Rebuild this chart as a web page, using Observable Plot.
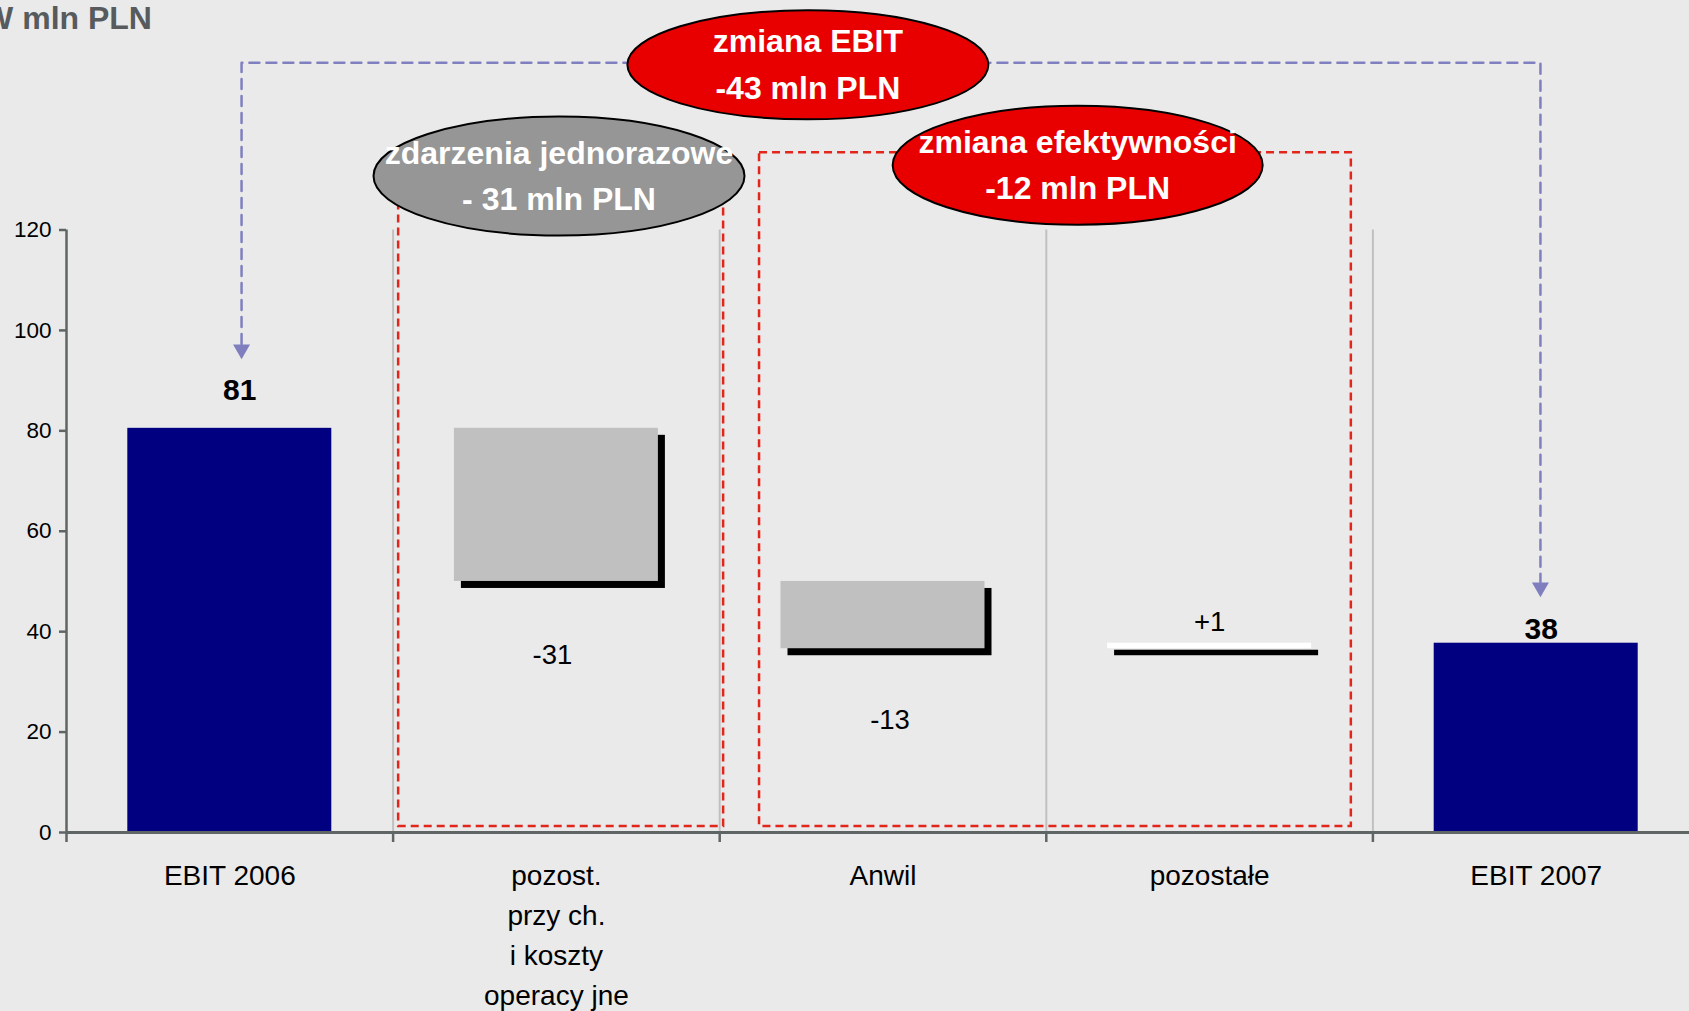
<!DOCTYPE html>
<html><head><meta charset="utf-8">
<script src="https://cdn.jsdelivr.net/npm/d3@7"></script>
<script src="https://cdn.jsdelivr.net/npm/@observablehq/plot@0.6"></script>
<style>
html,body{margin:0;padding:0;background:#eaeaea;overflow:hidden}
#chart svg{display:block}
</style></head><body><div id="chart"></div>
<script>
// ---- data ----
const categories = ["EBIT 2006", "pozost.\nprzy ch.\ni koszty\noperacy jne", "Anwil", "pozostałe", "EBIT 2007"];
const kinds = ["total", "delta", "delta", "delta", "total"];
const values = [80.5, -30.5, -13.4, 1.1, 37.7];
const valueLabels = ["81", "-31", "-13", "+1", "38"];
const yTicks = [0, 20, 40, 60, 80, 100, 120];
const axisTitle = "W mln PLN";
const bubbleTexts = ["zmiana EBIT\n-43 mln PLN", "zdarzenia jednorazowe\n- 31 mln PLN", "zmiana efektywności\n-12 mln PLN"];

// ---- annotation layout (data units: x = category index, y = mln PLN) ----
const bubbleLayout = [
  {cx: 2.270, cy: 152.9, rx: 180.5, ry: 54.5, fill: "#e80000"},
  {cx: 1.508, cy: 130.75, rx: 185.5, ry: 59.5, fill: "#969696"},
  {cx: 3.096, cy: 132.9, rx: 185, ry: 59.5, fill: "#e80000"}
];
const boxLayout = [
  {x1: 1.017, x2: 2.012, y1: 1.2, y2: 127},
  {x1: 2.122, x2: 3.934, y1: 1.2, y2: 135.4}
];
const connector = [
  {x: 0.536, y: 97.3}, {x: 0.536, y: 153.3}, {x: 4.513, y: 153.3}, {x: 4.513, y: 49.9}
];
const arrowHeads = [{x: 0.536, y: 96.2}, {x: 4.513, y: 48.8}];

// ---- build waterfall rows ----
let run = 0;
const rows = categories.map((c, i) => {
  let y1, y2;
  if (kinds[i] === "total") { y1 = 0; y2 = values[i]; run = values[i]; }
  else { y1 = run; y2 = run + values[i]; run = y2; }
  return {i, label: c, kind: kinds[i], v: values[i], y1, y2, lo: Math.min(y1, y2), hi: Math.max(y1, y2), text: valueLabels[i]};
});
const pad = 0.1877;
const deltas = rows.filter(d => d.kind === "delta");
const totals = rows.filter(d => d.kind === "total");
const bubbles = bubbleLayout.map((b, i) => ({...b, text: bubbleTexts[i]}));

function ellipseSymbol(rx, ry) {
  const k = 0.5522847498;
  return {draw(ctx) {
    ctx.moveTo(rx, 0);
    ctx.bezierCurveTo(rx, ry * k, rx * k, ry, 0, ry);
    ctx.bezierCurveTo(-rx * k, ry, -rx, ry * k, -rx, 0);
    ctx.bezierCurveTo(-rx, -ry * k, -rx * k, -ry, 0, -ry);
    ctx.bezierCurveTo(rx * k, -ry, rx, -ry * k, rx, 0);
    ctx.closePath();
  }};
}

const axisColor = "#5f6464";
const font = "'Liberation Sans', Arial, sans-serif";

const chart = Plot.plot({
  width: 1689, height: 1011,
  marginLeft: 66, marginRight: 0, marginTop: 229.5, marginBottom: 179,
  style: {background: "transparent", fontFamily: font, color: "black", overflow: "hidden"},
  x: {domain: [0, 5], range: [66, 1699], axis: null},
  y: {domain: [0, 120], axis: null},
  marks: [
    // separators
    Plot.ruleX([1, 2, 3, 4], {y1: 0, y2: 120, stroke: "#c0c0c0", strokeWidth: 2}),
    // shadows
    Plot.rect(deltas, {x1: d => d.i + pad, x2: d => d.i + 1 - pad, y1: "lo", y2: "hi", fill: "black", dx: 7, dy: 7}),
    // bars
    Plot.rect(rows, {x1: d => d.i + pad, x2: d => d.i + 1 - pad, y1: "lo", y2: "hi",
      fill: d => d.kind === "total" ? "#000080" : d.v < 0 ? "#c0c0c0" : "#ffffff"}),
    // red dashed boxes
    Plot.rect(boxLayout, {x1: "x1", x2: "x2", y1: "y1", y2: "y2", fill: "none", stroke: "#e3261c", strokeWidth: 2.5, strokeDasharray: "8,5"}),
    // axes
    Plot.ruleX([0], {y1: 0, y2: 120, stroke: axisColor, strokeWidth: 2.5}),
    Plot.axisY({ticks: yTicks, tickSize: 7, tickPadding: 8, fontSize: 22.5, stroke: axisColor, strokeWidth: 2.5, fill: "black", label: null}),
    Plot.axisX({ticks: [0, 1, 2, 3, 4], tickSize: 10, tickFormat: () => "", stroke: axisColor, strokeWidth: 2.5, label: null}),
    Plot.ruleY([0], {stroke: axisColor, strokeWidth: 3}),
    // connector
    Plot.line(connector, {x: "x", y: "y", stroke: "#8080c0", strokeWidth: 2.5, strokeDasharray: "10,7"}),
    Plot.dot(arrowHeads, {x: "x", y: "y", symbol: "triangle", rotate: 180, r: 6.3, fill: "#7f7fc0", stroke: "none"}),
    // bubbles
    ...bubbles.map(b => Plot.dot([b], {x: "cx", y: "cy", symbol: ellipseSymbol(b.rx, b.ry), r: 5, fill: "fill", stroke: "black", strokeWidth: 2})),
    Plot.text(bubbles, {x: "cx", y: "cy", text: "text", fill: "white", fontWeight: "bold", fontSize: 32, lineHeight: 1.45, lineAnchor: "middle", dy: -4}),
    // value labels
    Plot.text(totals.filter(d => d.i === 0), {x: d => d.i + 0.5, y: "hi", text: "text", lineAnchor: "bottom", dx: 10, dy: -28.5, fontSize: 30, fontWeight: "bold"}),
    Plot.text(totals.filter(d => d.i === 4), {x: d => d.i + 0.5, y: "hi", text: "text", lineAnchor: "bottom", dx: 5, dy: -4, fontSize: 30, fontWeight: "bold"}),
    Plot.text(deltas.filter(d => d.v < 0 && d.i === 1), {x: d => d.i + 0.5, y: "lo", text: "text", lineAnchor: "middle", dy: 74, dx: -4, fontSize: 27.5}),
    Plot.text(deltas.filter(d => d.v < 0 && d.i === 2), {x: d => d.i + 0.5, y: "lo", text: "text", lineAnchor: "middle", dy: 71, dx: 7, fontSize: 27.5}),
    Plot.text(deltas.filter(d => d.v >= 0), {x: d => d.i + 0.5, y: "hi", text: "text", lineAnchor: "middle", dy: -21, fontSize: 27.5}),
    // category labels
    Plot.text(rows, {x: d => d.i + 0.5, text: "label", frameAnchor: "bottom", lineAnchor: "top", dy: 24, fontSize: 28, lineHeight: 1.43}),
    // title
    Plot.text([axisTitle], {frameAnchor: "top-left", textAnchor: "start", lineAnchor: "bottom", dx: -83.4, dy: -201.5, fontSize: 32, fontWeight: "bold", fill: "#575b5d"})
  ]
});
document.getElementById("chart").append(chart);
</script></body></html>
